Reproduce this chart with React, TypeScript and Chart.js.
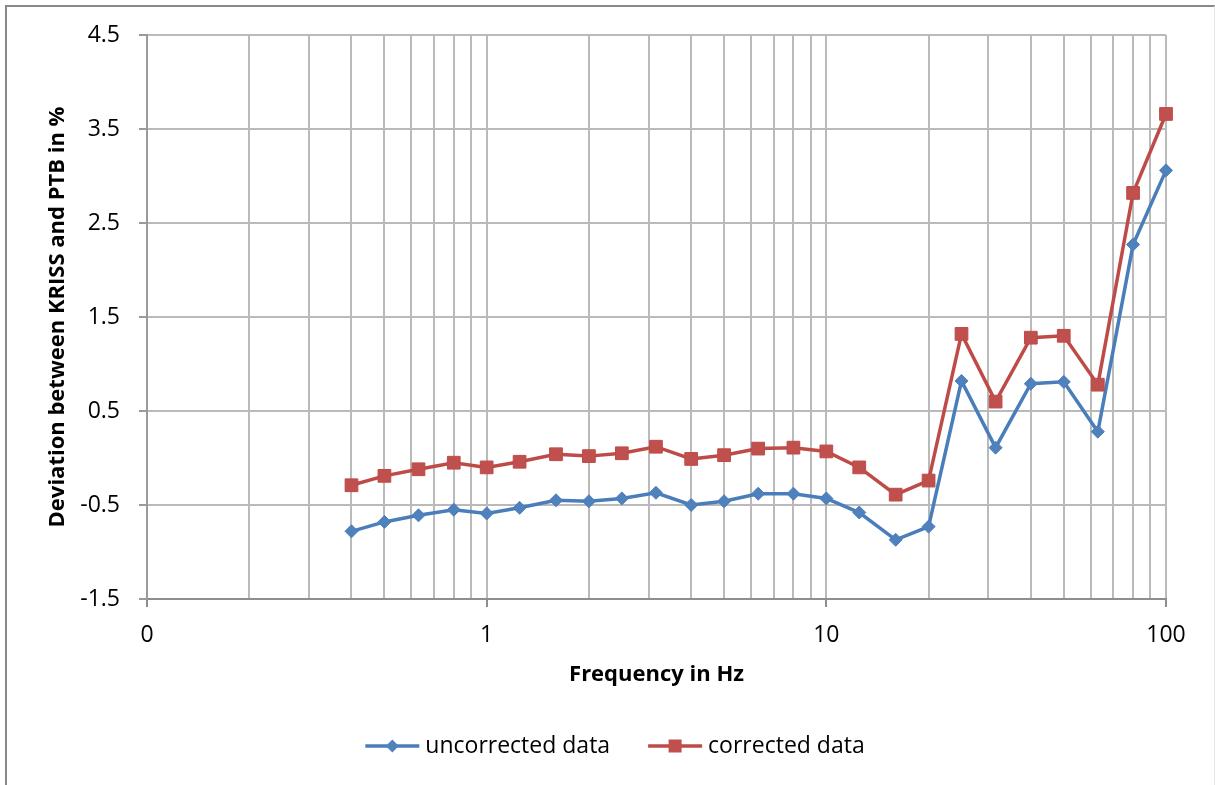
import React, { useEffect, useRef } from 'react';
import { Chart, registerables } from 'chart.js';

Chart.register(...registerables);

// ---- data ----
const frequencies = [0.4, 0.5, 0.63, 0.8, 1, 1.25, 1.6, 2, 2.5, 3.15, 4, 5, 6.3, 8, 10, 12.5, 16, 20, 25, 31.5, 40, 50, 63, 80, 100];
const uncorrected = [-0.78, -0.68, -0.61, -0.55, -0.59, -0.53, -0.45, -0.46, -0.43, -0.37, -0.5, -0.46, -0.38, -0.38, -0.43, -0.58, -0.87, -0.73, 0.82, 0.11, 0.79, 0.81, 0.28, 2.27, 3.06];
const corrected = [-0.29, -0.19, -0.12, -0.05, -0.1, -0.04, 0.04, 0.02, 0.05, 0.12, -0.01, 0.03, 0.1, 0.11, 0.07, -0.1, -0.39, -0.24, 1.32, 0.6, 1.28, 1.3, 0.78, 2.82, 3.66];
const seriesNames = ['uncorrected data', 'corrected data'];
const xMajorTicks = [0.1, 1, 10, 100];
const xTickLabels = ['0', '1', '10', '100'];
const yTicks = [-1.5, -0.5, 0.5, 1.5, 2.5, 3.5, 4.5];
const xTitle = 'Frequency in Hz';
const yTitle = 'Deviation between KRISS and PTB in %';

// ---- styles ----
const FONT = "'Open Sans', sans-serif";
const BLUE_LINE = '#4A7EBB';
const BLUE_FILL = '#4F81BD';
const RED_LINE = '#BE4B48';
const RED_FILL = '#C0504D';
const GRID = '#bababa';

const majorIndex = (v: number) =>
  xMajorTicks.findIndex((m) => Math.abs(m - v) / m < 1e-6);

const minorTicks: number[] = [];
for (let d = 0; d < xMajorTicks.length - 1; d++) {
  for (let k = 1; k <= 9; k++) minorTicks.push(k * xMajorTicks[d]);
}
minorTicks.push(xMajorTicks[xMajorTicks.length - 1]);

const legendPlugin = {
  id: 'excelLegend',
  afterDraw(chart: any) {
    const ctx = chart.ctx as CanvasRenderingContext2D;
    ctx.save();
    ctx.font = `23px ${FONT}`;
    const lineLen = 54;
    const gapText = 6;
    const gapItem = 38;
    const items = [
      { text: seriesNames[0], line: BLUE_LINE, fill: BLUE_FILL, shape: 'diamond' },
      { text: seriesNames[1], line: RED_LINE, fill: RED_FILL, shape: 'square' },
    ];
    const widths = items.map((it) => ctx.measureText(it.text).width);
    const total = widths.reduce((a, w) => a + lineLen + gapText + w, 0) + gapItem * (items.length - 1);
    let x = 615 - total / 2;
    const y = 746;
    items.forEach((it, i) => {
      ctx.strokeStyle = it.line;
      ctx.lineWidth = 3.5;
      ctx.beginPath();
      ctx.moveTo(x, y);
      ctx.lineTo(x + lineLen, y);
      ctx.stroke();
      const cx = x + lineLen / 2;
      ctx.fillStyle = it.fill;
      ctx.beginPath();
      if (it.shape === 'diamond') {
        const r = 6.5;
        ctx.moveTo(cx - r, y);
        ctx.lineTo(cx, y - r);
        ctx.lineTo(cx + r, y);
        ctx.lineTo(cx, y + r);
        ctx.closePath();
      } else {
        ctx.rect(cx - 6.5, y - 6.5, 13, 13);
      }
      ctx.fill();
      ctx.fillStyle = '#000';
      ctx.textAlign = 'left';
      ctx.textBaseline = 'middle';
      ctx.fillText(it.text, x + lineLen + gapText, y);
      x += lineLen + gapText + widths[i] + gapItem;
    });
    ctx.restore();
  },
};

export default function App() {
  const ref = useRef<HTMLCanvasElement>(null);

  useEffect(() => {
    if (!ref.current) return;
    const chart = new Chart(ref.current, {
      type: 'line',
      data: {
        datasets: [
          {
            label: seriesNames[0],
            data: frequencies.map((f, i) => ({ x: f, y: uncorrected[i] })),
            borderColor: BLUE_LINE,
            backgroundColor: BLUE_FILL,
            borderWidth: 3.5,
            pointStyle: 'rectRot',
            pointRadius: 6.5,
            pointBorderWidth: 1,
            pointBorderColor: BLUE_LINE,
            pointBackgroundColor: BLUE_FILL,
            tension: 0,
            clip: false,
            order: 1,
          },
          {
            label: seriesNames[1],
            data: frequencies.map((f, i) => ({ x: f, y: corrected[i] })),
            borderColor: RED_LINE,
            backgroundColor: RED_FILL,
            borderWidth: 3.5,
            pointStyle: 'rect',
            pointRadius: 9,
            pointBorderWidth: 1,
            pointBorderColor: RED_LINE,
            pointBackgroundColor: RED_FILL,
            tension: 0,
            clip: false,
            order: 0,
          },
        ],
      },
      options: {
        responsive: false,
        animation: false,
        events: [],
        layout: { padding: { left: 45, top: 35, right: 49, bottom: 97 } },
        plugins: {
          legend: { display: false },
          tooltip: { enabled: false },
        },
        scales: {
          x: {
            type: 'logarithmic',
            min: 0.1,
            max: 100,
            afterBuildTicks: (s: any) => {
              s.ticks = minorTicks.map((v) => ({ value: v, major: majorIndex(v) >= 0 }));
            },
            afterFit: (s: any) => {
              s.height = 89;
            },
            ticks: {
              autoSkip: false,
              maxRotation: 0,
              minRotation: 0,
              padding: 15,
              color: '#000',
              font: { family: FONT, size: 23 },
              callback: (v: any) => {
                const i = majorIndex(Number(v));
                return i >= 0 ? xTickLabels[i] : '';
              },
            },
            grid: {
              color: GRID,
              lineWidth: 2,
              tickLength: 8,
              tickColor: (c: any) =>
                c.tick && majorIndex(c.tick.value) >= 0 ? '#8e8e8e' : 'rgba(0,0,0,0)',
            },
            border: { color: '#8e8e8e', width: 2 },
            title: {
              display: true,
              text: xTitle,
              color: '#000',
              font: { family: FONT, size: 22, weight: 'bold' },
              padding: 0,
            },
          },
          y: {
            type: 'linear',
            min: -1.5,
            max: 4.5,
            afterBuildTicks: (s: any) => {
              s.ticks = yTicks.map((v) => ({ value: v }));
            },
            afterFit: (s: any) => {
              s.width = 102;
            },
            ticks: {
              padding: 19,
              color: '#000',
              font: { family: FONT, size: 23 },
              callback: (v: any) => Number(v).toFixed(1),
            },
            grid: {
              color: GRID,
              lineWidth: 2,
              tickLength: 8,
              tickColor: '#9a9a9a',
            },
            border: { color: '#9a9a9a', width: 2 },
            title: {
              display: true,
              text: yTitle,
              color: '#000',
              font: { family: FONT, size: 22, weight: 'bold' },
              padding: 0,
            },
          },
        },
      } as any,
      plugins: [legendPlugin],
    } as any);
    return () => chart.destroy();
  }, []);

  return (
    <div
      style={{
        position: 'fixed',
        left: 0,
        top: 0,
        width: 1215,
        height: 785,
        overflow: 'hidden',
        background: '#fff',
      }}
    >
      <div
        style={{
          position: 'absolute',
          left: 5,
          top: 5,
          width: 1207,
          height: 800,
          borderLeft: '2px solid #898989',
          borderTop: '2px solid #898989',
          borderRight: '1px solid #e6e6e6',
        }}
      />
      <canvas
        ref={ref}
        width={1215}
        height={785}
        style={{ position: 'absolute', left: 0, top: 0, width: 1215, height: 785 }}
      />
    </div>
  );
}
